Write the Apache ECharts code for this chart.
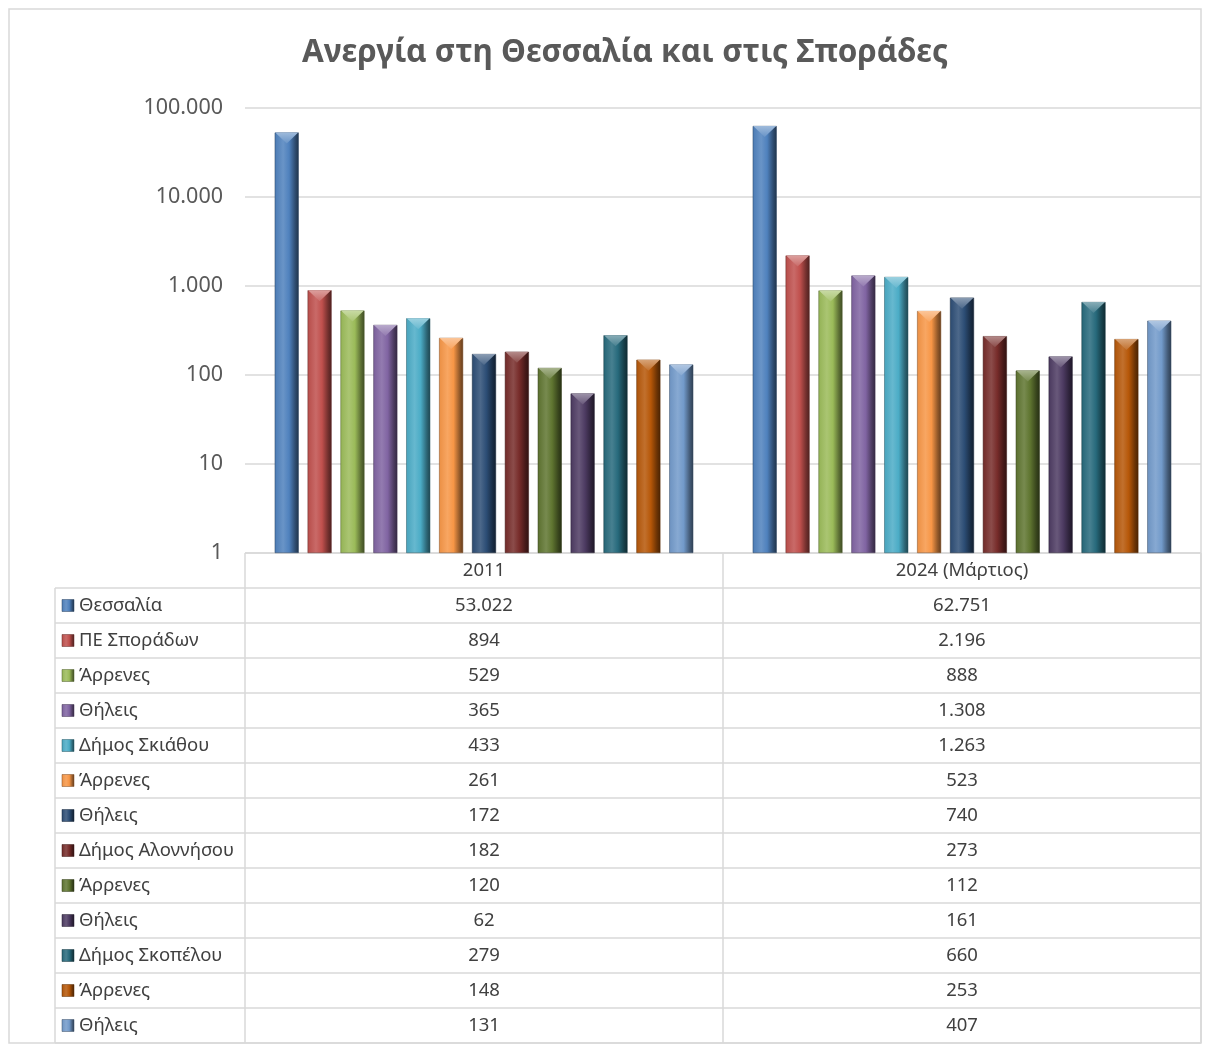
<!DOCTYPE html>
<html>
<head>
<meta charset="utf-8">
<script src="https://cdn.jsdelivr.net/npm/echarts@6/dist/echarts.min.js"></script>
<style>
  html, body { margin: 0; padding: 0; background: #fff; }
  #chart { width: 1217px; height: 1048px; }
</style>
</head>
<body>
<div id="chart"></div>
<script>
// data
const categories = ['2011', '2024 (Μάρτιος)'];
const seriesNames = ['Θεσσαλία', 'ΠΕ Σποράδων', 'Άρρενες', 'Θήλεις', 'Δήμος Σκιάθου', 'Άρρενες', 'Θήλεις',
  'Δήμος Αλοννήσου', 'Άρρενες', 'Θήλεις', 'Δήμος Σκοπέλου', 'Άρρενες', 'Θήλεις'];
const values2011 = [53022, 894, 529, 365, 433, 261, 172, 182, 120, 62, 279, 148, 131];
const values2024 = [62751, 2196, 888, 1308, 1263, 523, 740, 273, 112, 161, 660, 253, 407];
const colors = ['#4F81BD', '#C0504D', '#9BBB59', '#8064A2', '#4BACC6', '#F79646', '#2C4D75',
  '#772C2A', '#5F7530', '#4D3B62', '#276A7C', '#B65708', '#729ACA'];

// layout
const gridL = 245, gridR = 1201, gridT = 108, gridB = 553;
const labelL = 55, rowH = 35;
const colMid = (gridL + gridR) / 2;
const BAR_W = 24, BAR_GAP = '37%';

function fmt(v) {
  return String(v).replace(/\B(?=(\d{3})+(?!\d))/g, '.');
}

function shade(hex, p) {
  let n = parseInt(hex.slice(1), 16);
  let r = n >> 16, g = (n >> 8) & 255, b = n & 255;
  const f = c => p >= 0 ? Math.round(c + (255 - c) * p) : Math.round(c * (1 + p));
  return 'rgb(' + f(r) + ',' + f(g) + ',' + f(b) + ')';
}

function barFill(c) {
  return new echarts.graphic.LinearGradient(0, 0, 1, 0, [
    { offset: 0, color: shade(c, -0.05) },
    { offset: 0.35, color: shade(c, 0.15) },
    { offset: 0.6, color: c },
    { offset: 0.85, color: shade(c, -0.4) },
    { offset: 1, color: shade(c, -0.6) }
  ]);
}

const series = [];
seriesNames.forEach((name, i) => {
  series.push({
    name: name,
    type: 'bar',
    barWidth: BAR_W,
    barGap: BAR_GAP,
    data: [values2011[i], values2024[i]],
    itemStyle: { color: barFill(colors[i]), borderColor: shade(colors[i], -0.5), borderWidth: 0.5 }
  });
});
// bevel tops (chevron) drawn on top of each bar
seriesNames.forEach((name, i) => {
  series.push({
    name: name,
    type: 'pictorialBar',
    barWidth: BAR_W,
    barGap: BAR_GAP,
    z: 3,
    symbol: 'path://M0,0 L24,0 L12,11 Z',
    symbolSize: [BAR_W - 1, 11],
    symbolPosition: 'end',
    symbolOffset: [0, 0],
    data: [values2011[i], values2024[i]],
    itemStyle: {
      color: new echarts.graphic.LinearGradient(0, 0, 0, 1, [
        { offset: 0, color: shade(colors[i], 0.45) },
        { offset: 1, color: shade(colors[i], 0.15) }
      ])
    }
  });
});

// data table
const graphics = [];
const lineStyle = { stroke: '#d9d9d9', lineWidth: 1.5 };
const tableBottom = gridB + rowH * (seriesNames.length + 1);
graphics.push({ type: 'line', shape: { x1: gridL, y1: gridB, x2: gridR, y2: gridB }, style: lineStyle });
for (let i = 0; i <= seriesNames.length; i++) {
  const y = gridB + rowH * (i + 1);
  graphics.push({ type: 'line', shape: { x1: labelL, y1: y, x2: gridR, y2: y }, style: lineStyle });
}
graphics.push({ type: 'line', shape: { x1: labelL, y1: gridB + rowH, x2: labelL, y2: tableBottom }, style: lineStyle });
[gridL, colMid, gridR].forEach(x => {
  graphics.push({ type: 'line', shape: { x1: x, y1: gridB, x2: x, y2: tableBottom }, style: lineStyle });
});
const textStyle = { fill: '#404040', font: '18.5px "Noto Sans"', verticalAlign: 'middle' };
categories.forEach((c, j) => {
  const cx = j === 0 ? (gridL + colMid) / 2 : (colMid + gridR) / 2;
  graphics.push({ type: 'text', x: cx, y: gridB + rowH / 2, style: Object.assign({ text: c, align: 'center' }, textStyle) });
});
seriesNames.forEach((name, i) => {
  const y = gridB + rowH * (i + 1.5);
  graphics.push({ type: 'rect', shape: { x: 62, y: y - 6, width: 12, height: 12 },
    style: { fill: barFill(colors[i]), stroke: shade(colors[i], -0.5), lineWidth: 0.5 } });
  graphics.push({ type: 'text', x: 79, y: y, style: Object.assign({ text: name, align: 'left' }, textStyle) });
  graphics.push({ type: 'text', x: (gridL + colMid) / 2, y: y, style: Object.assign({ text: fmt(values2011[i]), align: 'center' }, textStyle) });
  graphics.push({ type: 'text', x: (colMid + gridR) / 2, y: y, style: Object.assign({ text: fmt(values2024[i]), align: 'center' }, textStyle) });
});
// outer chart border
graphics.push({ type: 'rect', shape: { x: 9, y: 9, width: 1192, height: 1034 },
  style: { fill: 'none', stroke: '#d9d9d9', lineWidth: 1.5 } });

const chart = echarts.init(document.getElementById('chart'));
chart.setOption({
  animation: false,
  textStyle: { fontFamily: 'Noto Sans' },
  title: {
    text: 'Ανεργία στη Θεσσαλία και στις Σποράδες',
    left: 620, top: 32, textAlign: 'center',
    textStyle: { fontSize: 31.5, fontWeight: 'bold', color: '#595959', fontFamily: 'Noto Sans' }
  },
  grid: { left: gridL, right: 1217 - gridR, top: gridT, bottom: 1048 - gridB },
  xAxis: {
    type: 'category',
    data: categories,
    axisLine: { show: false },
    axisTick: { show: false },
    axisLabel: { show: false }
  },
  yAxis: {
    type: 'log',
    logBase: 10,
    min: 1,
    max: 100000,
    axisLine: { show: false },
    axisTick: { show: false },
    axisLabel: { formatter: v => fmt(v), fontSize: 21.5, color: '#595959', margin: 22 },
    splitLine: { lineStyle: { color: '#d9d9d9', width: 1.5 } }
  },
  series: series,
  graphic: graphics
});
</script>
</body>
</html>
